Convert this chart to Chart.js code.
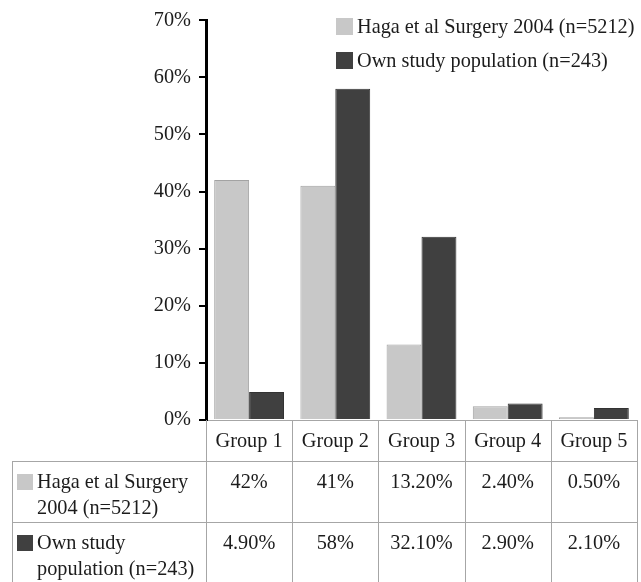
<!DOCTYPE html>
<html>
<head>
<meta charset="utf-8">
<script src="https://cdn.jsdelivr.net/npm/chart.js@4/dist/chart.umd.min.js"></script>
<style>
    body { margin: 0; background: #fff; }
    #wrap { width: 641px; height: 582px; position: relative; }
</style>
</head>
<body>
<div id="wrap"><canvas id="chart"></canvas></div>
<script>
const groups = ['Group 1', 'Group 2', 'Group 3', 'Group 4', 'Group 5'];
const haga = [42, 41, 13.2, 2.4, 0.5];
const own = [4.9, 58, 32.1, 2.9, 2.1];
const hagaLabel = ['Haga et al Surgery', '2004 (n=5212)'];
const ownLabel = ['Own study', 'population (n=243)'];
const yTicks = [0, 10, 20, 30, 40, 50, 60, 70];

const FONT = '"Liberation Serif", "Times New Roman", serif';
const TEXT = '#1c1c1c';
const LINE = '#a6a6a6';

// table cells look like excel: integers plain, others with 2 decimals
function pct(v) {
    if (Number.isInteger(v)) return v + '%';
    return v.toFixed(2) + '%';
}

const series = [
    { name: hagaLabel, fill: '#c8c8c8', edge: '#a3a3a3', data: haga },
    { name: ownLabel, fill: '#404040', edge: '#333333', data: own }
];

// legend top right + data table under the axis
const extras = {
    id: 'extras',
    afterDraw(chart) {
        let ctx = chart.ctx;
        let area = chart.chartArea;
        let xs = chart.scales.x;
        let step = (area.right - area.left) / groups.length;
        ctx.save();
        ctx.font = '20.3px ' + FONT;
        ctx.fillStyle = TEXT;
        ctx.textBaseline = 'middle';

        // legend
        let ly = [27, 61];
        series.forEach(function (s, i) {
            ctx.fillStyle = s.fill;
            ctx.fillRect(336, ly[i] - 9, 17, 17);
            ctx.fillStyle = TEXT;
            ctx.textAlign = 'left';
            ctx.fillText(s.name.join(' '), 357, ly[i] + 1);
        });

        // table lines
        let top = area.bottom;
        let r1 = 461, r2 = 522, bottom = 582;
        ctx.strokeStyle = LINE;
        ctx.lineWidth = 1;
        ctx.beginPath();
        for (let i = 0; i <= groups.length; i++) {
            let bx = Math.round(area.left + i * step) + 0.5;
            ctx.moveTo(bx, top);
            ctx.lineTo(bx, bottom);
        }
        ctx.moveTo(12.5, r1);
        ctx.lineTo(12.5, bottom);
        ctx.moveTo(12, r1 + 0.5);
        ctx.lineTo(area.right + 1, r1 + 0.5);
        ctx.moveTo(12, r2 + 0.5);
        ctx.lineTo(area.right + 1, r2 + 0.5);
        ctx.stroke();

        // rows
        let rowTop = [r1, r2];
        series.forEach(function (s, i) {
            let y1 = rowTop[i] + 22;
            ctx.fillStyle = s.fill;
            ctx.fillRect(17, y1 - 9, 16, 16);
            ctx.fillStyle = TEXT;
            ctx.textAlign = 'left';
            ctx.fillText(s.name[0], 37, y1);
            ctx.fillText(s.name[1], 37, y1 + 26);
            ctx.textAlign = 'center';
            s.data.forEach(function (v, j) {
                ctx.fillText(pct(v), xs.getPixelForValue(j), y1);
            });
        });
        ctx.restore();
    }
};

const chart = new Chart(document.getElementById('chart'), {
    type: 'bar',
    data: {
        labels: groups,
        datasets: series.map(function (s) {
            return {
                label: s.name.join(' '),
                data: s.data,
                backgroundColor: s.fill,
                borderColor: s.edge,
                borderWidth: 1,
                barPercentage: 1,
                categoryPercentage: 0.81
            };
        })
    },
    options: {
        responsive: true,
        maintainAspectRatio: false,
        animation: false,
        layout: { padding: { top: 6, right: 4, left: 0, bottom: 0 } },
        plugins: {
            legend: { display: false },
            tooltip: { enabled: false }
        },
        scales: {
            x: {
                grid: { display: false, drawTicks: false },
                border: { display: true, color: LINE, width: 1 },
                ticks: { font: { family: FONT, size: 20.3 }, color: TEXT, padding: 9 },
                afterFit: function (scale) { scale.height = 162; }
            },
            y: {
                min: 0,
                max: 70,
                afterBuildTicks: function (scale) {
                    scale.ticks = yTicks.map(function (v) { return { value: v }; });
                },
                grid: { drawOnChartArea: false, drawTicks: true, tickLength: 7, color: '#000', lineWidth: 2 },
                border: { display: true, color: '#000', width: 3 },
                ticks: {
                    font: { family: FONT, size: 20.3 },
                    color: TEXT,
                    padding: 8,
                    callback: function (v) { return v + '%'; }
                },
                afterFit: function (scale) { scale.width = 206; }
            }
        }
    },
    plugins: [extras]
});
</script>
</body>
</html>
